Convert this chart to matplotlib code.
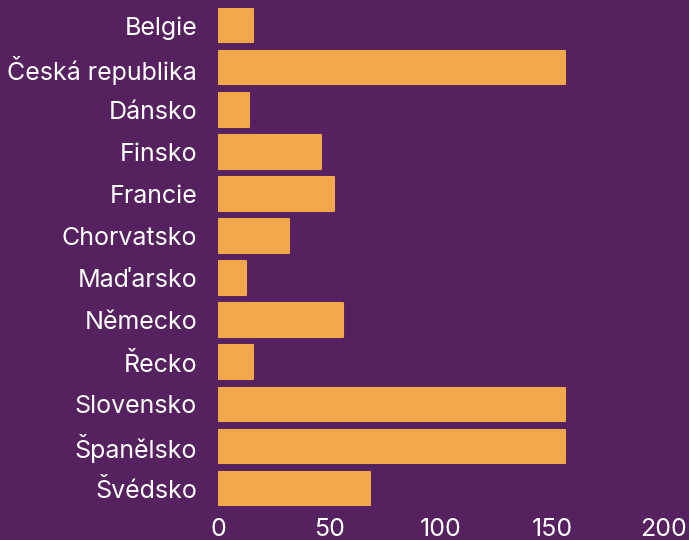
import matplotlib
matplotlib.use("Agg")
import matplotlib.pyplot as plt

countries = ["Belgie", "Česká republika", "Dánsko", "Finsko", "Francie", "Chorvatsko",
             "Maďarsko", "Německo", "Řecko", "Slovensko", "Španělsko", "Švédsko"]
values = [15.7, 156, 13.9, 46.2, 52, 31.9, 12.4, 56.2, 15.9, 156, 156, 68.2]
xticks = [0, 50, 100, 150, 200]

BG = "#55215f"
BAR = "#f2a74a"

plt.rcParams['font.family'] = ['Inter', 'DejaVu Sans']

fig = plt.figure(figsize=(6.89, 5.40), dpi=100, facecolor=BG)
ax = fig.add_axes([218/689, 30/540, 445.5/689, 510/540])
ax.set_facecolor(BG)

pos = list(range(len(countries)))
ax.barh(pos, values, height=0.80, color=BAR, edgecolor=BAR, linewidth=1.5,
        joinstyle='round')

ax.set_xlim(0, 200)
ax.set_ylim(11.51, -0.606)
ax.set_yticks(pos)
ax.set_yticklabels(countries)
ax.set_xticks(xticks)
ax.set_xticklabels([str(t) for t in xticks])
ax.tick_params(axis='both', length=0, colors='white', labelsize=18)
ax.tick_params(axis='y', pad=15)
ax.tick_params(axis='x', pad=6)
for s in ax.spines.values():
    s.set_visible(False)

fig.savefig("out.png", dpi=100, facecolor=BG)
